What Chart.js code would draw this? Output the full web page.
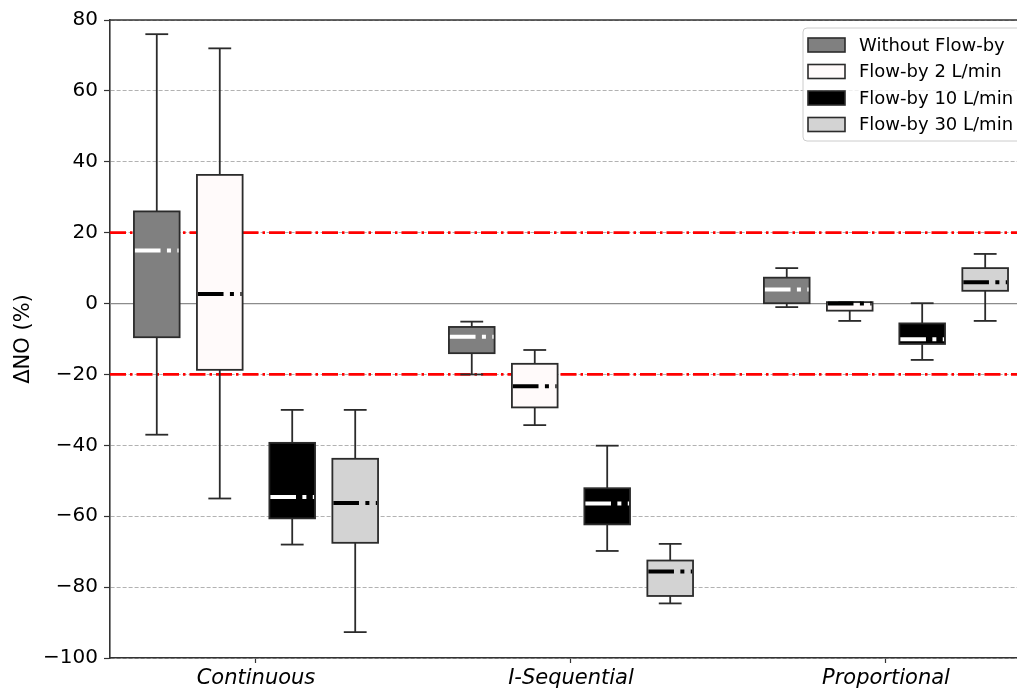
<!DOCTYPE html>
<html>
<head>
<meta charset="utf-8">
<script src="https://cdn.jsdelivr.net/npm/chart.js@4/dist/chart.umd.min.js"></script>
<style>
  html, body { margin: 0; padding: 0; background: #fff; }
  canvas { display: block; }
</style>
</head>
<body>
<canvas id="boxChart" width="1017" height="691"></canvas>
<script>
// categories on the x axis
const groups = ['Continuous', 'I-Sequential', 'Proportional'];
const seriesLabels = ['Without Flow-by', 'Flow-by 2 L/min', 'Flow-by 10 L/min', 'Flow-by 30 L/min'];

// each entry: [lower whisker, q1, median, q3, upper whisker], one per group
const withoutFlowby = [[-37, -9.5, 15, 26, 76], [-20, -14, -9.4, -6.6, -5.1], [-1, 0.1, 4, 7.3, 10]];
const flowby2 = [[-55, -18.7, 2.7, 36.3, 72], [-34.3, -29.3, -23.3, -17, -13.1], [-4.9, -2, 0, 0.4, 0.4]];
const flowby10 = [[-68, -60.6, -54.6, -39.3, -30], [-69.8, -62.3, -56.4, -52.1, -40.1], [-15.9, -11.4, -10.1, -5.6, 0.1]];
const flowby30 = [[-92.7, -67.5, -56.3, -43.8, -30], [-84.6, -82.5, -75.6, -72.5, -67.8], [-4.9, 3.6, 6, 10, 14]];

const yTicks = [-100, -80, -60, -40, -20, 0, 20, 40, 60, 80];
const limitLines = [20, -20];

const allStats = [withoutFlowby, flowby2, flowby10, flowby30];
const fills = ['#808080', '#fffafa', '#000000', '#d3d3d3'];
const medianColors = ['#ffffff', '#000000', '#ffffff', '#000000'];
const offsets = [-0.315, -0.115, 0.115, 0.315];
const boxWidth = 0.145;
const FONT = "'DejaVu Sans', sans-serif";

function line(ctx, x1, y1, x2, y2) {
    ctx.beginPath();
    ctx.moveTo(x1, y1);
    ctx.lineTo(x2, y2);
    ctx.stroke();
}

const boxPlugin = {
    id: 'boxPlot',
    beforeDatasetsDraw(chart) {
        const { ctx, chartArea: a, scales: { y } } = chart;
        ctx.save();
        ctx.strokeStyle = '#8c8c8c';
        ctx.lineWidth = 1.2;
        const y0 = y.getPixelForValue(0);
        line(ctx, a.left, y0, a.right, y0);

        ctx.strokeStyle = '#ff0000';
        ctx.lineWidth = 2.8;
        ctx.setLineDash([16, 4, 2.5, 4]);
        limitLines.forEach(v => {
            const py = y.getPixelForValue(v);
            line(ctx, a.left, py, a.right, py);
        });
        ctx.restore();
    },
    afterDatasetsDraw(chart) {
        const { ctx, scales: { x, y } } = chart;
        const half = (x.getPixelForValue(boxWidth) - x.getPixelForValue(0)) / 2;
        ctx.save();
        chart.data.datasets.forEach((ds, s) => {
            ds.stats.forEach((st, g) => {
                const xc = x.getPixelForValue(g + offsets[s]);
                const [lo, q1, med, q3, hi] = st.map(v => y.getPixelForValue(v));
                ctx.setLineDash([]);
                ctx.strokeStyle = '#2b2b2b';
                ctx.lineWidth = 1.8;
                line(ctx, xc, lo, xc, q1);
                line(ctx, xc, q3, xc, hi);
                line(ctx, xc - half / 2, lo, xc + half / 2, lo);
                line(ctx, xc - half / 2, hi, xc + half / 2, hi);

                ctx.fillStyle = fills[s];
                ctx.fillRect(xc - half, q3, half * 2, q1 - q3);
                ctx.strokeRect(xc - half, q3, half * 2, q1 - q3);

                ctx.strokeStyle = medianColors[s];
                ctx.lineWidth = 4;
                ctx.lineCap = 'butt';
                ctx.setLineDash([25.6, 6.4, 4, 6.4]);
                line(ctx, xc - half + 1, med, xc + half - 1, med);
            });
        });
        ctx.restore();
    },
    afterDraw(chart) {
        const { ctx, chartArea: a } = chart;
        ctx.save();
        // top spine
        ctx.strokeStyle = '#333';
        ctx.lineWidth = 1.5;
        line(ctx, a.left, a.top, a.right, a.top);

        // legend box
        const lx = 803, ly = 28, lw = 260, lh = 113;
        ctx.beginPath();
        ctx.roundRect(lx, ly, lw, lh, 4);
        ctx.fillStyle = 'rgba(255,255,255,0.8)';
        ctx.fill();
        ctx.strokeStyle = '#cccccc';
        ctx.lineWidth = 1;
        ctx.stroke();

        ctx.font = '18px ' + FONT;
        ctx.textBaseline = 'middle';
        seriesLabels.forEach((lab, i) => {
            const cy = 45 + i * 26.5;
            ctx.fillStyle = fills[i];
            ctx.fillRect(808, cy - 7, 37, 14);
            ctx.strokeStyle = '#2b2b2b';
            ctx.lineWidth = 1.6;
            ctx.strokeRect(808, cy - 7, 37, 14);
            ctx.fillStyle = '#000';
            ctx.fillText(lab, 859, cy + 1);
        });
        ctx.restore();
    }
};

const datasets = seriesLabels.map((label, s) => ({
    label: label,
    stats: allStats[s],
    data: allStats[s].map((st, g) => ({ x: g + offsets[s], y: st[2] })),
    pointRadius: 0,
    showLine: false
}));

new Chart(document.getElementById('boxChart').getContext('2d'), {
    type: 'scatter',
    data: { datasets: datasets },
    plugins: [boxPlugin],
    options: {
        responsive: false,
        animation: false,
        devicePixelRatio: 1,
        layout: { padding: { top: 20, right: 0, left: 0, bottom: 0 } },
        plugins: { legend: { display: false }, tooltip: { enabled: false } },
        scales: {
            x: {
                type: 'linear',
                min: -0.4635,
                max: 2.416,
                afterBuildTicks: scale => { scale.ticks = groups.map((g, i) => ({ value: i })); },
                afterFit: scale => { scale.height = 33; },
                ticks: {
                    callback: v => groups[v],
                    font: { family: FONT, size: 21, style: 'italic' },
                    color: '#000',
                    padding: 3,
                    maxRotation: 0,
                    autoSkip: false
                },
                grid: { drawOnChartArea: false, drawTicks: true, tickLength: 5, tickColor: '#333', tickWidth: 1.2 },
                border: { color: '#333', width: 1.6 }
            },
            y: {
                min: -100,
                max: 80,
                afterBuildTicks: scale => { scale.ticks = yTicks.map(v => ({ value: v })); },
                afterFit: scale => { scale.width = 110; },
                ticks: {
                    callback: v => (v < 0 ? '\u2212' + Math.abs(v) : String(v)),
                    font: { family: FONT, size: 20 },
                    color: '#000',
                    padding: 6
                },
                grid: { color: '#9e9e9e', lineWidth: 0.8, tickLength: 6, tickColor: '#333', tickWidth: 1.2 },
                border: { color: '#333', width: 1.6, dash: [4, 2] },
                title: {
                    display: true,
                    text: 'ΔNO (%)',
                    font: { family: FONT, size: 21 },
                    color: '#000',
                    padding: { top: 11, bottom: 0 }
                }
            }
        }
    }
});
</script>
</body>
</html>
